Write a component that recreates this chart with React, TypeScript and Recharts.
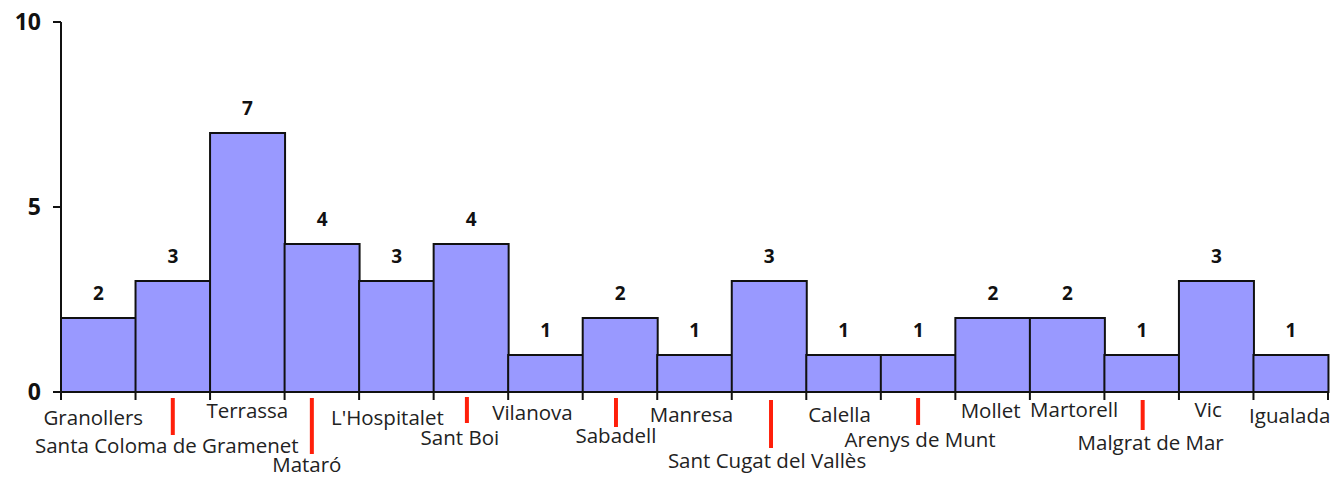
import React from "react";
import { BarChart, Bar, XAxis, YAxis, LabelList } from "recharts";

const CITIES = [
  "Granollers", "Santa Coloma de Gramenet", "Terrassa", "Mataró", "L'Hospitalet",
  "Sant Boi", "Vilanova", "Sabadell", "Manresa", "Sant Cugat del Vallès",
  "Calella", "Arenys de Munt", "Mollet", "Martorell", "Malgrat de Mar", "Vic", "Igualada",
];
const COUNTS = [2, 3, 7, 4, 3, 4, 1, 2, 1, 3, 1, 1, 2, 2, 1, 3, 1];
const Y_TICKS = [0, 5, 10];

// label placement under the axis: baseline below axis, x nudge, optional red leader
type LabelPos = { by: number; dx: number; lead?: [number, number, number] };
const LABEL_POS: LabelPos[] = [
  { by: 33, dx: -5 },
  { by: 61, dx: -6, lead: [6, 43, 0] },
  { by: 26, dx: 0 },
  { by: 80, dx: -15, lead: [6, 62, -10] },
  { by: 33, dx: -9 },
  { by: 53, dx: -11, lead: [5, 31, -4] },
  { by: 28, dx: -13 },
  { by: 51, dx: -4, lead: [6, 35, -4] },
  { by: 30, dx: -3 },
  { by: 76, dx: -2, lead: [8, 56, 2] },
  { by: 30, dx: -4 },
  { by: 55, dx: 2, lead: [6, 33, 0] },
  { by: 26, dx: -2 },
  { by: 25, dx: 7 },
  { by: 58, dx: 9, lead: [8, 38, 1] },
  { by: 25, dx: -8 },
  { by: 31, dx: -1 },
];

const W = 1336;
const H = 477;
const M = { top: 22, right: 8, left: 0, bottom: 0 };
const Y_W = 61;
const X_H = 85;
const BAND = (W - M.right - Y_W) / CITIES.length;
const FONT = "'Open Sans', sans-serif";

const data = CITIES.map((city, i) => ({ city, count: COUNTS[i] }));

function CityTick(props: any) {
  const { x, y, index } = props;
  const p = LABEL_POS[index];
  const last = index === CITIES.length - 1;
  return (
    <g>
      <line x1={x - BAND / 2} x2={x - BAND / 2} y1={y} y2={y + 8} stroke="#111" strokeWidth={2} />
      {last && <line x1={x + BAND / 2} x2={x + BAND / 2} y1={y} y2={y + 8} stroke="#111" strokeWidth={2} />}
      {p.lead && (
        <line x1={x + p.lead[2]} x2={x + p.lead[2]} y1={y + p.lead[0]} y2={y + p.lead[1]} stroke="#ff1f0a" strokeWidth={4} />
      )}
      <text x={x + p.dx} y={y + p.by} textAnchor="middle" fontFamily={FONT} fontSize={20.5} fill="#222">
        {CITIES[index]}
      </text>
    </g>
  );
}

function ValueLabel(props: any) {
  const { x, y, width, value } = props;
  return (
    <text x={x + width / 2} y={y - 18} textAnchor="middle" fontFamily={FONT} fontSize={19} fontWeight={700} fill="#111">
      {value}
    </text>
  );
}

export default function App() {
  return (
    <div style={{ position: "fixed", left: 0, top: 0, width: W, height: H, background: "#fff" }}>
      <BarChart width={W} height={H} data={data} margin={M} barCategoryGap={0} style={{ overflow: "visible" }}>
        <XAxis
          dataKey="city"
          height={X_H}
          interval={0}
          tickSize={0}
          tickMargin={0}
          tickLine={false}
          axisLine={{ stroke: "#111", strokeWidth: 2 }}
          tick={<CityTick />}
        />
        <YAxis
          width={Y_W}
          domain={[0, 10]}
          ticks={Y_TICKS}
          tickSize={8}
          tickMargin={12}
          axisLine={{ stroke: "#111", strokeWidth: 2 }}
          tickLine={{ stroke: "#111", strokeWidth: 2 }}
          tick={{ fontFamily: FONT, fontSize: 23, fontWeight: 700, fill: "#111" }}
        />
        <Bar dataKey="count" fill="#9999ff" stroke="#111" strokeWidth={2} isAnimationActive={false}>
          <LabelList dataKey="count" content={<ValueLabel />} />
        </Bar>
      </BarChart>
    </div>
  );
}
